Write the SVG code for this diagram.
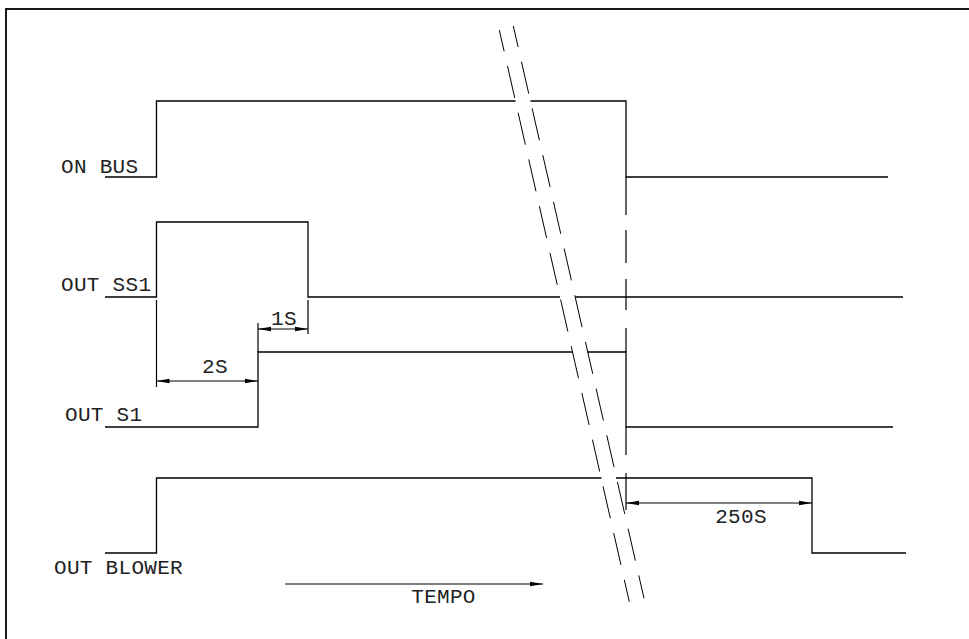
<svg xmlns="http://www.w3.org/2000/svg" width="969" height="639" viewBox="0 0 969 639">
<style>
.sig{fill:none;stroke:#000;stroke-width:1.3}
.ext{fill:none;stroke:#000;stroke-width:1.2}
.dim{fill:none;stroke:#000;stroke-width:1.2}
.brk{fill:none;stroke:#000;stroke-width:1;stroke-dasharray:32.8 15.1}
.lbl{font-family:"Liberation Mono","DejaVu Sans Mono",monospace;font-size:21px;letter-spacing:0.3px;fill:#222}
</style>
<defs>
<marker id="ah" markerUnits="userSpaceOnUse" markerWidth="14" markerHeight="6" refX="13" refY="2.5" orient="auto-start-reverse" viewBox="0 0 14 5">
<path d="M0,0.3 L13,2.5 L0,4.7 z" fill="#000"/>
</marker>
</defs>
<rect width="969" height="639" fill="#fff"/>
<g id="frame"><rect x="6" y="9" width="975" height="650" fill="none" stroke="#000" stroke-width="1.8"/></g>

<g id="sig-on-bus">
<path class="sig" d="M105,177 H156.5 V101 H515.5 M530.5,101 H626 V177 H888"/>
<text class="lbl" x="61" y="173">ON BUS</text>
</g>
<g id="sig-out-ss1">
<path class="sig" d="M105,297 H156.5 V222 H308 V297 H560 M575.5,297 H903"/>
<text class="lbl" x="61" y="291">OUT SS1</text>
</g>
<g id="sig-out-s1">
<path class="sig" d="M105,427 H258 V352 H572.5 M587.5,352 H626 V427 H893"/>
<text class="lbl" x="65" y="421">OUT S1</text>
</g>
<g id="sig-out-blower">
<path class="sig" d="M105,553 H156.5 V478 H601.5 M616,478 H812 V553 H906"/>
<text class="lbl" x="54" y="574">OUT BLOWER</text>
</g>

<g id="connectors">
<path class="ext" d="M626,177 V215 M626,230 V263 M626,279 V310 M626,328 V352 M626,427 V455 M626,473 V510"/>
<path class="ext" d="M156.5,300 V387 M258,323 V352 M308,300 V334"/>
<path class="dim" d="M156.5,381 H258" marker-start="url(#ah)" marker-end="url(#ah)"/>
<path class="dim" d="M258,329 H308" marker-start="url(#ah)" marker-end="url(#ah)"/>
<path class="dim" d="M626,503 H812" marker-start="url(#ah)" marker-end="url(#ah)"/>
<path class="dim" d="M285,584 H543" marker-end="url(#ah)"/>
</g>

<g id="dim-labels">
<text class="lbl" x="215" y="373" text-anchor="middle">2S</text>
<text class="lbl" x="284" y="325" text-anchor="middle">1S</text>
<text class="lbl" x="741" y="523" text-anchor="middle">250S</text>
<text class="lbl" x="443.5" y="603" text-anchor="middle">TEMPO</text>
</g>

<g id="break-lines">
<line class="brk" x1="499.3" y1="30" x2="629.3" y2="601.7" stroke-dashoffset="11"/>
<line class="brk" x1="513.3" y1="26" x2="644" y2="598.3" stroke-dashoffset="11.3"/>
</g>
</svg>
